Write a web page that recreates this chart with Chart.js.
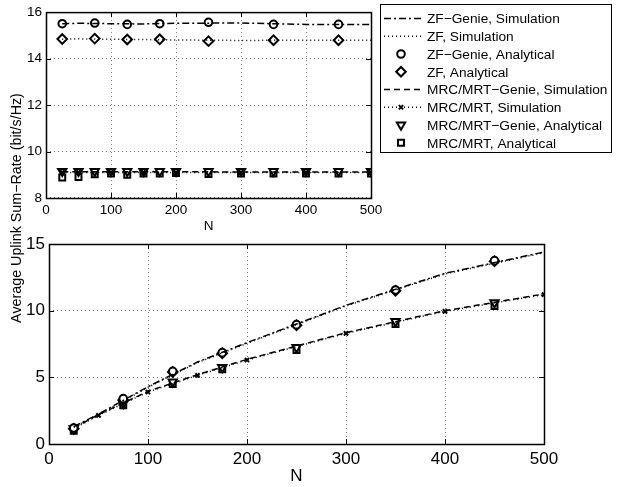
<!DOCTYPE html>
<html>
<head>
<meta charset="utf-8">
<script src="https://cdn.jsdelivr.net/npm/chart.js@4/dist/chart.umd.min.js"></script>
<style>
  html, body { margin: 0; padding: 0; background: #fff; }
  #wrap { position: relative; width: 618px; height: 487px; }
  #wrap canvas { position: absolute; left: 0; top: 0; }
</style>
</head>
<body>
<div id="wrap">
  <canvas id="grafTop" width="618" height="487"></canvas>
  <canvas id="grafBottom" width="618" height="487"></canvas>
</div>
<script>
// nomi delle serie (legenda)
const seriesNames = [
  "ZF−Genie, Simulation",
  "ZF, Simulation",
  "ZF−Genie, Analytical",
  "ZF, Analytical",
  "MRC/MRT−Genie, Simulation",
  "MRC/MRT, Simulation",
  "MRC/MRT−Genie, Analytical",
  "MRC/MRT, Analytical"
];
const xLabel = "N";
const yLabel = "Average Uplink Sum−Rate (bit/s/Hz)";
const xTicks = [0, 100, 200, 300, 400, 500];
const topYTicks = [8, 10, 12, 14, 16];
const bottomYTicks = [0, 5, 10, 15];

// pannello superiore
const topSimN = [25, 50, 100, 150, 200, 300, 400, 500];
const topZfN = [25, 75, 125, 175, 250, 350, 450];
const topMrcN = [25, 50, 75, 100, 125, 150, 175, 200, 250, 300, 350, 400, 450, 500];
const topZfGenieSim = [15.5, 15.52, 15.5, 15.49, 15.52, 15.53, 15.47, 15.47];
const topZfSim = [14.83, 14.85, 14.83, 14.82, 14.8, 14.78, 14.79, 14.79];
const topZfGenieAna = [15.5, 15.53, 15.47, 15.5, 15.56, 15.47, 15.47];
const topZfAna = [14.84, 14.86, 14.82, 14.83, 14.75, 14.79, 14.79];
const topMrcGenieSim = [9.13, 9.13, 9.13, 9.13, 9.13, 9.12, 9.12, 9.12];
const topMrcSim = [9.1, 9.1, 9.1, 9.1, 9.1, 9.1, 9.1, 9.1];
const topMrcGenieAna = [9.15, 9.15, 9.15, 9.15, 9.15, 9.15, 9.15, 9.15, 9.15, 9.15, 9.15, 9.15, 9.15, 9.15];
const topMrcAna = [8.88, 8.9, 9.02, 9.05, 9.0, 9.05, 9.05, 9.07, 9.03, 9.05, 9.05, 9.05, 9.05, 9.05];

// pannello inferiore
const botSimN = [25, 50, 100, 150, 200, 300, 400, 500];
const botAnaN = [25, 75, 125, 175, 250, 350, 450];
const botZfGenieSim = [1.3, 2.25, 4.3, 6.15, 7.6, 10.4, 12.8, 14.4];
const botZfSim = [1.25, 2.2, 4.25, 6.1, 7.55, 10.35, 12.75, 14.35];
const botZfGenieAna = [1.2, 3.4, 5.45, 6.85, 8.95, 11.55, 13.75];
const botZfAna = [1.15, 3.3, 5.4, 6.8, 8.9, 11.5, 13.7];
const botMrcGenieSim = [1.2, 2.2, 3.95, 5.2, 6.35, 8.35, 10.0, 11.25];
const botMrcSim = [1.15, 2.15, 3.9, 5.15, 6.3, 8.3, 9.95, 11.2];
const botMrcGenieAna = [1.15, 3.05, 4.65, 5.75, 7.25, 9.2, 10.6];
const botMrcAna = [1.0, 2.9, 4.5, 5.6, 7.05, 9.0, 10.35];

const FONT = '"Liberation Sans", Arial, sans-serif';

// stile di ogni serie: linea e marcatore
const stili = [
  { dash: [7, 3, 2, 3], line: true, point: false },
  { dash: [1, 3], line: true, point: false },
  { line: false, point: "circle", r: 3.8 },
  { line: false, point: "rectRot", r: 4.8 },
  { dash: [6, 4], line: true, point: false },
  { dash: [1, 3], line: true, point: "crossRot", r: 3 },
  { line: false, point: "triangle", r: 4.8, rot: 180 },
  { line: false, point: "rect", r: 4.2 }
];

function punti(xs, ys) {
  return xs.map((x, i) => ({ x: x, y: ys[i] }));
}

function creaDataset(serie) {
  return serie.map((data, i) => {
    const s = stili[i];
    return {
      label: seriesNames[i],
      data: data,
      showLine: s.line,
      borderColor: "#000",
      backgroundColor: "#fff",
      borderWidth: 1.5,
      borderDash: s.dash || [],
      pointStyle: s.point || "circle",
      pointRadius: s.point ? s.r : 0,
      pointRotation: s.rot || 0,
      pointBorderWidth: 2,
      pointBorderColor: "#000",
      pointBackgroundColor: "#fff",
      tension: 0
    };
  });
}

// cornice e tacche interne stile MATLAB
const cornice = {
  id: "cornice",
  afterDatasetsDraw(chart) {
    const ctx = chart.ctx;
    const a = chart.chartArea;
    const sx = chart.scales.x, sy = chart.scales.y;
    ctx.save();
    ctx.strokeStyle = "#000";
    ctx.lineWidth = 1;
    ctx.setLineDash([]);
    ctx.beginPath();
    sx.ticks.forEach(t => {
      const p = Math.round(sx.getPixelForValue(t.value)) + 0.5;
      ctx.moveTo(p, a.bottom); ctx.lineTo(p, a.bottom - 5);
      ctx.moveTo(p, a.top); ctx.lineTo(p, a.top + 5);
    });
    sy.ticks.forEach(t => {
      const p = Math.round(sy.getPixelForValue(t.value)) + 0.5;
      ctx.moveTo(a.left, p); ctx.lineTo(a.left + 5, p);
      ctx.moveTo(a.right, p); ctx.lineTo(a.right - 5, p);
    });
    ctx.stroke();
    ctx.lineWidth = 1.5;
    ctx.strokeRect(a.left + 0.5, a.top + 0.5, a.right - a.left, a.bottom - a.top);
    ctx.restore();
  }
};

function disegnaMarcatore(ctx, ds, x, y) {
  if (Chart.helpers && Chart.helpers.drawPoint) {
    ctx.fillStyle = "#fff";
    ctx.strokeStyle = "#000";
    ctx.lineWidth = ds.pointBorderWidth;
    ctx.setLineDash([]);
    Chart.helpers.drawPoint(ctx, {
      pointStyle: ds.pointStyle,
      radius: ds.pointRadius,
      rotation: ds.pointRotation,
      borderWidth: ds.pointBorderWidth
    }, x, y);
  }
}

// legenda a destra del grafico superiore
const legenda = {
  id: "legenda",
  afterDraw(chart) {
    const ctx = chart.ctx;
    const bx = 380.5, by = 4.5, bw = 231, bh = 148;
    ctx.save();
    ctx.fillStyle = "#fff";
    ctx.fillRect(bx, by, bw, bh);
    ctx.strokeStyle = "#000";
    ctx.lineWidth = 1;
    ctx.strokeRect(bx, by, bw, bh);
    chart.data.datasets.forEach((ds, i) => {
      const y = 18.5 + i * 17.75;
      if (ds.showLine) {
        ctx.beginPath();
        ctx.setLineDash(ds.borderDash);
        ctx.lineWidth = ds.borderWidth;
        ctx.strokeStyle = "#000";
        ctx.moveTo(384, y);
        ctx.lineTo(421, y);
        ctx.stroke();
      }
      if (ds.pointRadius > 0) disegnaMarcatore(ctx, ds, 401, y);
      ctx.setLineDash([]);
      ctx.fillStyle = "#000";
      ctx.font = "13.7px " + FONT;
      ctx.textAlign = "left";
      ctx.textBaseline = "middle";
      ctx.fillText(ds.label, 427, y + 1);
    });
    ctx.restore();
  }
};

// etichetta verticale comune ai due grafici
const titoloY = {
  id: "titoloY",
  afterDraw(chart) {
    const ctx = chart.ctx;
    ctx.save();
    ctx.translate(17, 208);
    ctx.rotate(-Math.PI / 2);
    ctx.font = "14.3px " + FONT;
    ctx.fillStyle = "#000";
    ctx.textAlign = "center";
    ctx.textBaseline = "middle";
    ctx.fillText(yLabel, 0, 0);
    ctx.restore();
  }
};

function opzioniAssi(yTicks, fontSize, larghezzaY, altezzaX, padX) {
  const griglia = { color: "#777", lineWidth: 1, drawTicks: false, borderDash: [1, 3] };
  return {
    x: {
      type: "linear",
      min: xTicks[0],
      max: xTicks[xTicks.length - 1],
      afterBuildTicks: s => { s.ticks = xTicks.map(v => ({ value: v })); },
      afterFit: s => { s.height = altezzaX; },
      grid: griglia,
      border: { display: false, dash: [1, 3] },
      ticks: { color: "#000", padding: padX, maxRotation: 0, font: { family: FONT, size: fontSize } },
      title: { display: true, text: xLabel, color: "#000", padding: 0, font: { family: FONT, size: fontSize } }
    },
    y: {
      type: "linear",
      min: yTicks[0],
      max: yTicks[yTicks.length - 1],
      afterBuildTicks: s => { s.ticks = yTicks.map(v => ({ value: v })); },
      afterFit: s => { s.width = larghezzaY; },
      grid: griglia,
      border: { display: false, dash: [1, 3] },
      ticks: { color: "#000", padding: 4, font: { family: FONT, size: fontSize } }
    }
  };
}

document.addEventListener("DOMContentLoaded", function () {
  const serieTop = [
    punti(topSimN, topZfGenieSim),
    punti(topSimN, topZfSim),
    punti(topZfN, topZfGenieAna),
    punti(topZfN, topZfAna),
    punti(topSimN, topMrcGenieSim),
    punti(topSimN, topMrcSim),
    punti(topMrcN, topMrcGenieAna),
    punti(topMrcN, topMrcAna)
  ];
  const serieBottom = [
    punti(botSimN, botZfGenieSim),
    punti(botSimN, botZfSim),
    punti(botAnaN, botZfGenieAna),
    punti(botAnaN, botZfAna),
    punti(botSimN, botMrcGenieSim),
    punti(botSimN, botMrcSim),
    punti(botAnaN, botMrcGenieAna),
    punti(botAnaN, botMrcAna)
  ];

  new Chart(document.getElementById("grafTop").getContext("2d"), {
    type: "scatter",
    data: { datasets: creaDataset(serieTop) },
    options: {
      responsive: false,
      animation: false,
      devicePixelRatio: 1,
      layout: { padding: { left: 0, top: 10, right: 247, bottom: 253 } },
      plugins: { legend: { display: false }, tooltip: { enabled: false } },
      scales: opzioniAssi(topYTicks, 13.5, 46, 36, 4)
    },
    plugins: [cornice, legenda]
  });

  new Chart(document.getElementById("grafBottom").getContext("2d"), {
    type: "scatter",
    data: { datasets: creaDataset(serieBottom) },
    options: {
      responsive: false,
      animation: false,
      devicePixelRatio: 1,
      layout: { padding: { left: 0, top: 244, right: 74, bottom: 0 } },
      plugins: { legend: { display: false }, tooltip: { enabled: false } },
      scales: opzioniAssi(bottomYTicks, 17, 49, 43, 5)
    },
    plugins: [cornice, titoloY]
  });
});
</script>
</body>
</html>
